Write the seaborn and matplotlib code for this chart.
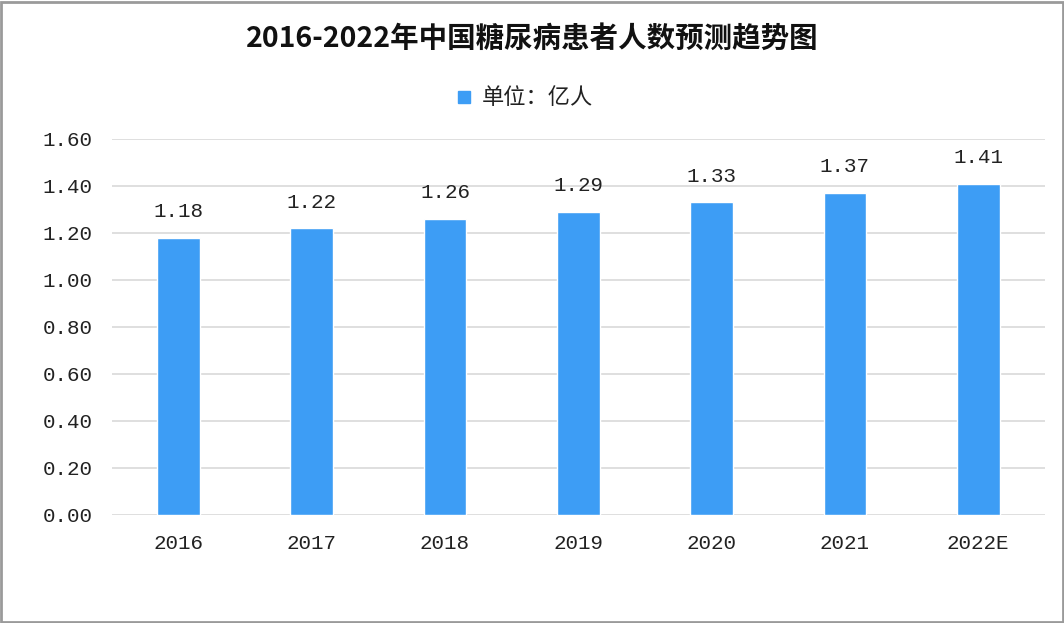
import matplotlib
matplotlib.use("Agg")
import matplotlib.pyplot as plt
import seaborn as sns
import pandas as pd
from matplotlib.patches import Rectangle

years = ["2016", "2017", "2018", "2019", "2020", "2021", "2022E"]
values = [1.18, 1.22, 1.26, 1.29, 1.33, 1.37, 1.41]
yticks = [0.0, 0.2, 0.4, 0.6, 0.8, 1.0, 1.2, 1.4, 1.6]
title = "2016-2022年中国糖尿病患者人数预测趋势图"
legend_label = "单位：亿人"

sns.set_theme(style="white")
plt.rcParams['font.family'] = ['Noto Sans CJK SC', 'DejaVu Sans']

df = pd.DataFrame({"year": years, "value": values})

fig = plt.figure(figsize=(10.64, 6.23), dpi=100)
ax = fig.add_axes([0.105, 0.1734, 0.877, 0.6035])

bar_color = "#3d9df5"
sns.barplot(data=df, x="year", y="value", color=bar_color, width=0.32,
            saturation=1, ax=ax, zorder=3)

ax.set_ylim(0, 1.6)
ax.set_xlim(-0.5, len(years) - 0.5)
ax.set_yticks(yticks)
ax.set_yticklabels([f"{v:.2f}" for v in yticks], family="Liberation Mono",
                   fontsize=15, color="#222222")
ax.set_xticks(range(len(years)))
ax.set_xticklabels(years, family="Liberation Mono", fontsize=15, color="#222222")
ax.tick_params(axis="both", length=0)
ax.tick_params(axis="y", pad=14)
ax.tick_params(axis="x", pad=14)
ax.set_xlabel("")
ax.set_ylabel("")
for s in ax.spines.values():
    s.set_visible(False)
ax.grid(axis="y", color="#d9d9d9", linewidth=1.2, zorder=0)
ax.set_axisbelow(True)

for i, v in enumerate(values):
    ax.annotate(f"{v:.2f}", (i, v), xytext=(0, 12), textcoords="offset points",
                ha="center", va="bottom", family="Liberation Mono",
                fontsize=15, color="#222222")

fig.text(0.5, 0.938, title, ha="center", va="center", fontsize=20.5,
         fontweight="bold", color="#111111")

fig.patches.append(Rectangle((0.4305, 0.834), 0.0113, 0.0193,
                             transform=fig.transFigure, color=bar_color))
fig.text(0.4525, 0.8435, legend_label, ha="left", va="center", fontsize=16,
         color="#222222")

fig.patches.append(Rectangle((0.001, 0.002), 0.998, 0.995,
                             transform=fig.transFigure, fill=False,
                             edgecolor="#9a9a9a", linewidth=2))

fig.savefig("out.png", dpi=100, facecolor="white")
